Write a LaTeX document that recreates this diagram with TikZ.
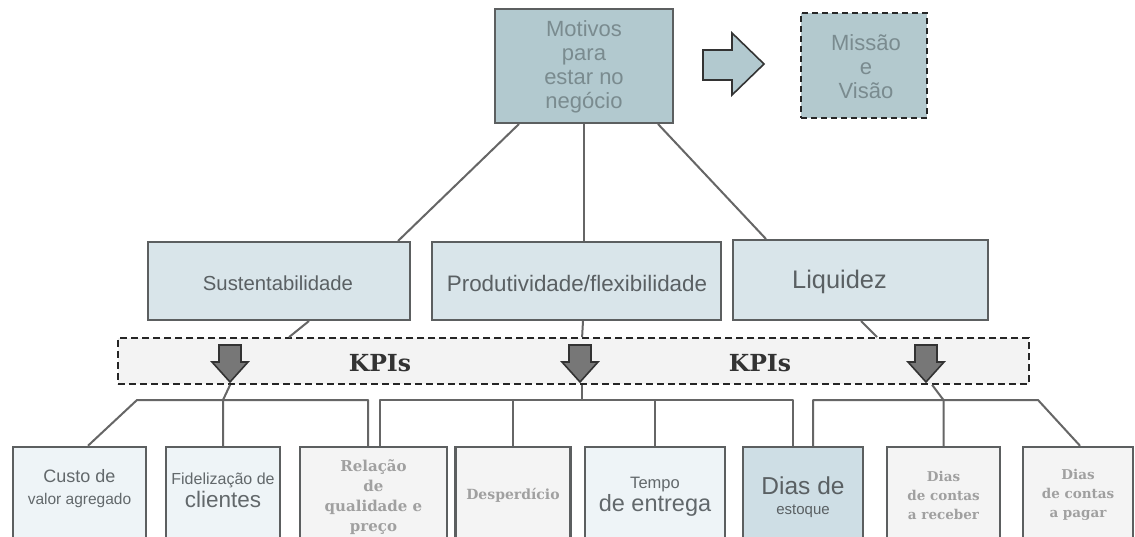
\documentclass[tikz,border=0pt]{standalone}
\usepackage{fontspec}
\setmainfont{Liberation Sans}
\newfontfamily\kserif{DejaVu Serif}
\usetikzlibrary{calc}
\definecolor{topfill}{HTML}{B2C9CF}
\definecolor{misfill}{HTML}{B3C9CE}
\definecolor{toptext}{HTML}{7A8B8F}
\definecolor{midfill}{HTML}{D9E5EA}
\definecolor{midtext}{HTML}{5A6063}
\definecolor{boxline}{HTML}{5C5F60}
\definecolor{connc}{HTML}{666666}
\definecolor{bandfill}{HTML}{F3F3F3}
\definecolor{arrfill}{HTML}{777777}
\definecolor{btext}{HTML}{62686B}
\definecolor{stext}{HTML}{A0A0A0}
\definecolor{kpitext}{HTML}{333333}
\definecolor{paleblue}{HTML}{EEF4F7}
\definecolor{palegray}{HTML}{F4F4F4}
\definecolor{estfill}{HTML}{CEDEE5}
\begin{document}
\begin{tikzpicture}[x=1pt,y=-1pt,
  box/.style={draw=boxline, line width=2pt, inner sep=0pt},
  lowbox/.style={draw=boxline, line width=2.5pt, inner sep=0pt, minimum height=98pt},
  conn/.style={draw=connc, line width=2pt, line join=round},
  lbl/.style={align=center, inner sep=0pt},
  sanslbl/.style={lbl, text=btext},
  seriflbl/.style={lbl, text=stext, font=\kserif\bfseries\fontsize{15}{20}\selectfont},
  blockarrow/.style={draw=black!80, line width=1.6pt, line join=miter},
  kpiarrow/.pic={\draw[blockarrow, fill=arrfill] (-11,-17) -- (11,-17) -- (11,0) -- (18,0) -- (0,20) -- (-18,0) -- (-11,0) -- cycle;}]
\clip (0,0) rectangle (1135,537);
\fill[white] (0,0) rectangle (1135,537);

% top
\node[box, fill=topfill, minimum width=178pt, minimum height=114pt] (mot) at (584,66) {};
\node[lbl, text=toptext, font=\fontsize{22}{24}\selectfont] (motT) at (584,67) {Motivos\\para\\estar no\\negócio};
\draw[blockarrow, fill=topfill] (703,50) -- (732,50) -- (732,33) -- (764,64) -- (732,95) -- (732,80) -- (703,80) -- cycle;
\node[draw=black!85, dash pattern=on 6pt off 4pt, line width=2pt, inner sep=0pt, fill=misfill, minimum width=126pt, minimum height=105pt] (mis) at (864,65.5) {};
\node[lbl, text=toptext, font=\fontsize{22}{24}\selectfont] (misT) at (866,67) {Missão\\e\\Visão};

% middle
\node[box, fill=midfill, minimum width=262pt, minimum height=78pt] (sus) at (279,281) {};
\node[lbl, text=midtext, font=\fontsize{20.3}{22}\selectfont] (susT) at (278,283) {Sustentabilidade};
\node[box, fill=midfill, minimum width=289pt, minimum height=78pt] (prod) at (576.5,281) {};
\node[lbl, text=midtext, font=\fontsize{22.4}{24}\selectfont] (prodT) at (577,283) {Produtividade/flexibilidade};
\node[box, fill=midfill, minimum width=255pt, minimum height=80pt] (liq) at (860.5,280) {};
\node[lbl, text=midtext, font=\fontsize{25.4}{26}\selectfont] (liqT) at (839.5,282) {Liquidez};

\draw[conn] ($(mot.south west)+(25,0)$) -- ($(sus.north east)+(-13,0)$);
\draw[conn] (mot.south) -- (mot.south |- prod.north);
\draw[conn] ($(mot.south east)+(-16,0)$) -- ($(liq.north west)+(34,0)$);

% KPI band
\node[draw=black!85, dash pattern=on 7pt off 4pt, line width=1.8pt, fill=bandfill, inner sep=0pt, minimum width=911pt, minimum height=46pt] (band) at (573.5,361) {};
\node[lbl, text=kpitext, font=\kserif\bfseries\fontsize{23.5}{24}\selectfont] (kpi1) at (380,363) {KPIs};
\node[lbl, text=kpitext, font=\kserif\bfseries\fontsize{23.5}{24}\selectfont] (kpi2) at (760,363) {KPIs};
\pic (a1) at (230,362) {kpiarrow};
\pic (a2) at (580,362) {kpiarrow};
\pic (a3) at (926,362) {kpiarrow};

\draw[conn] ($(sus.south west)+(162,0)$) -- ($(band.north west)+(172,0)$);
\draw[conn] ($(prod.south)+(6.5,0)$) -- ($(band.north west)+(465,0)$);
\draw[conn] ($(liq.south west)+(129,0)$) -- ($(band.north west)+(760,0)$);

% bottom boxes
\node[lowbox, fill=paleblue, minimum width=133pt] (cus) at (79.5,496) {};
\node[lowbox, fill=paleblue, minimum width=114pt] (fid) at (223,496) {};
\node[lowbox, fill=palegray, minimum width=147pt] (rel) at (373.5,496) {};
\node[lowbox, fill=palegray, minimum width=115pt] (des) at (513,496) {};
\node[lowbox, fill=paleblue, minimum width=140pt] (tem) at (655,496) {};
\node[lowbox, fill=estfill, minimum width=120pt] (est) at (803,496) {};
\node[lowbox, fill=palegray, minimum width=113pt] (rec) at (943.5,496) {};
\node[lowbox, fill=palegray, minimum width=110pt] (pag) at (1078,496) {};

\node[sanslbl, font=\fontsize{18}{22}\selectfont] (cusT) at (79.5,489) {Custo de\\{\fontsize{15.5}{18}\selectfont valor agregado}};
\node[sanslbl, font=\fontsize{16}{23}\selectfont] (fidT) at (223,490) {Fidelização de\\{\fontsize{22.5}{24}\selectfont clientes}};
\node[seriflbl] (relT) at (373.5,497) {Relação\\de\\qualidade e\\preço};
\node[seriflbl, font=\kserif\bfseries\fontsize{14}{18}\selectfont] (desT) at (513,495) {Desperdício};
\node[sanslbl, font=\fontsize{16.5}{23}\selectfont] (temT) at (655,497) {Tempo\\{\fontsize{23.5}{26}\selectfont de entrega}};
\node[lbl, text=midtext, font=\fontsize{24.5}{20}\selectfont] (estT) at (803,497) {Dias de\\{\fontsize{15}{18}\selectfont estoque}};
\node[seriflbl, font=\kserif\bfseries\fontsize{13.5}{19}\selectfont] (recT) at (943.5,495) {Dias\\de contas\\a receber};
\node[seriflbl, font=\kserif\bfseries\fontsize{13.5}{19}\selectfont] (pagT) at (1078,495) {Dias\\de contas\\a pagar};

% rails
\coordinate (rL1) at (137,400); \coordinate (rL2) at (368,400);
\coordinate (rM1) at (380,400); \coordinate (rM2) at (793,400);
\coordinate (rR1) at (813,400); \coordinate (rR2) at (1038,400);

\draw[conn] ($(cus.north)+(8.5,0)$) -- (rL1) -- (rL2) -- (rL2 |- rel.north);
\draw[conn] (fid.north) -- (fid.north |- rL1) -- ($(band.south west)+(113,0)$);
\draw[conn] (rM1 |- rel.north) -- (rM1) -- (rM2) -- (rM2 |- est.north);
\draw[conn] (des.north) -- (des.north |- rM1);
\draw[conn] (tem.north) -- (tem.north |- rM1);
\draw[conn] ($(band.south west)+(465,0)$) -- ($(band.south west)+(465,16)$);
\draw[conn] (rR1 |- est.north) -- (rR1) -- (rR2) -- ($(pag.north)+(2,0)$);
\draw[conn] (rec.north) -- (rec.north |- rR1) -- ($(band.south west)+(815,0)$);
\end{tikzpicture}
\end{document}
